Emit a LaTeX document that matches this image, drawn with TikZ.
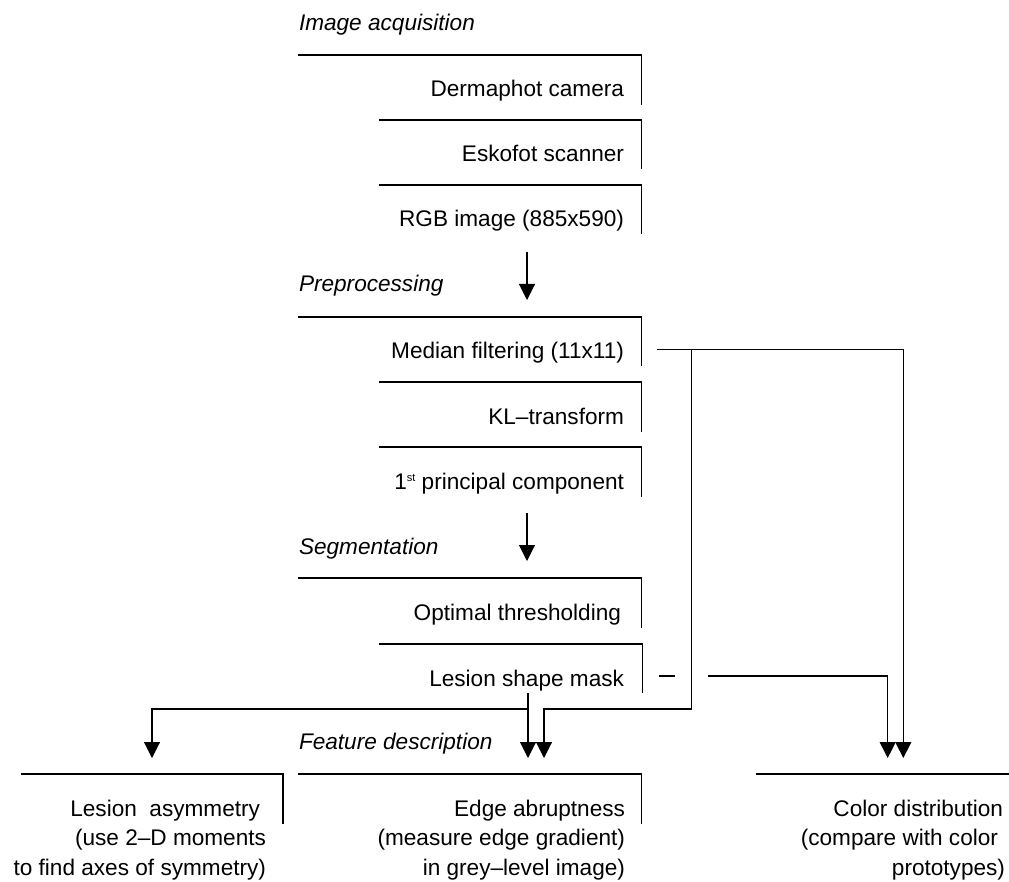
\documentclass[tikz,border=0pt]{standalone}
\usepackage{fontspec}
\setmainfont{Liberation Sans}
\usetikzlibrary{arrows.meta}
\begin{document}
\begin{tikzpicture}[x=1pt,y=-1pt,
  every node/.style={inner sep=0pt, outer sep=0pt, font=\fontsize{22.6}{29.5}\selectfont},
  lbl/.style={anchor=base west, font=\fontsize{22.6}{29.5}\selectfont\itshape},
  txt/.style={anchor=base east},
  boxline/.style={line width=1.1pt, line cap=rect},
  conn/.style={line width=1.1pt},
  arr/.style={conn, -{Triangle[width=16pt,length=16pt]}}
]
\useasboundingbox (0,0) rectangle (1009,882);

% ---- section labels
\node[lbl] (ia) at (299,31) {Image acquisition};
\node[lbl] (pp) at (299,292) {Preprocessing};
\node[lbl] (sg) at (299,554) {Segmentation};
\node[lbl] (fd) at (299,749) {Feature description};

% ---- boxes (top rule + right rule)
\draw[boxline] (299,55) -- (641.5,55) -- (641.5,104);
\draw[boxline] (380,120) -- (641.5,120) -- (641.5,168);
\draw[boxline] (380,185) -- (641.5,185) -- (641.5,233);
\draw[boxline] (299,317) -- (641.5,317) -- (641.5,365);
\draw[boxline] (380,382) -- (641.5,382) -- (641.5,431);
\draw[boxline] (380,447) -- (641.5,447) -- (641.5,496);
\draw[boxline] (299,578) -- (641.5,578) -- (641.5,627);
\draw[boxline] (380,644) -- (642.5,644) -- (642.5,692);
\draw[boxline] (22,774) -- (283,774) -- (283,823);
\draw[boxline] (299,774) -- (641.5,774) -- (641.5,823);
\draw[boxline] (757,774) -- (1012,774);

% ---- box texts
\node[txt] (dc)  at (624,97)  {Dermaphot camera};
\node[txt] (es)  at (624,162) {Eskofot scanner};
\node[txt] (rgb) at (624,227) {RGB image (885x590)};
\node[txt] (mf)  at (624,359) {Median filtering (11x11)};
\node[txt] (kl)  at (624,424) {KL–transform};
\node[txt] (pc)  at (624,489) {1\raisebox{8pt}{\fontsize{11}{11}\selectfont st} principal component};
\node[txt] (ot)  at (624,620) {Optimal thresholding\hspace*{3pt}};
\node[txt] (lsm) at (624,686) {Lesion shape mask};
\node[txt] (la)  at (266,816) {\begin{tabular}[t]{@{}r@{}}Lesion\ \ asymmetry\hspace*{6pt}\\(use 2–D moments\\to find axes of symmetry)\end{tabular}};
\node[txt] (ea)  at (625,816) {\begin{tabular}[t]{@{}r@{}}Edge abruptness\\(measure edge gradient)\\in grey–level image)\end{tabular}};
\node[txt] (cd)  at (1005,816) {\begin{tabular}[t]{@{}r@{}}Color distribution\hspace*{2pt}\\(compare with color\hspace*{7pt}\\prototypes)\end{tabular}};

% ---- connector coordinates
\coordinate (a1s) at (527,252);
\coordinate (a1e) at (527,300);
\coordinate (a2s) at (527,513);
\coordinate (a2e) at (527,561);
\coordinate (mfo) at (657,349.5);
\coordinate (mfj) at (691.7,349.5);
\coordinate (mfk) at (544,709);
\coordinate (tEA2) at (544,758);
\coordinate (tCD2) at (903.3,758);
\coordinate (lsb) at (528,693);
\coordinate (lsj) at (528,709);
\coordinate (tEA1) at (528,758);
\coordinate (tLA) at (152,758);
\coordinate (lso) at (659,676);
\coordinate (lsg1) at (675,676);
\coordinate (lsg2) at (708,676);
\coordinate (tCD1) at (887.7,758);

% ---- connectors
\draw[arr] (a1s) -- (a1e);
\draw[arr] (a2s) -- (a2e);
\draw[arr] (mfo) -| (tCD2);
\draw[arr] (mfj) |- (mfk) -- (tEA2);
\draw[arr] (lsb) -- (tEA1);
\draw[arr] (lsj) -| (tLA);
\draw[conn] (lso) -- (lsg1);
\draw[arr] (lsg2) -| (tCD1);
\end{tikzpicture}
\end{document}
